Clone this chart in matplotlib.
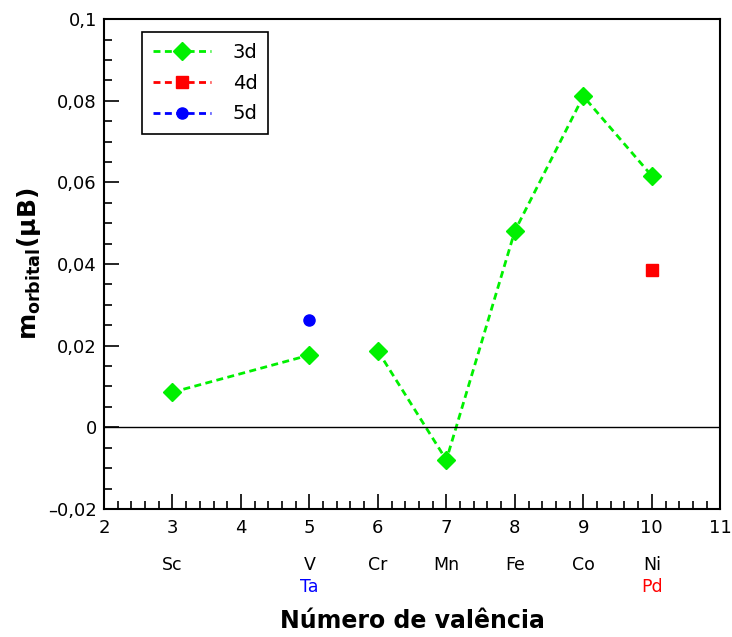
import numpy as np
import matplotlib.pyplot as plt
from matplotlib.ticker import MultipleLocator, FuncFormatter
import matplotlib.transforms as mtransforms

# dados
val_3d = [3, 5, 6, 7, 8, 9, 10]
m_3d = [0.0086, 0.0177, 0.0187, -0.0080, 0.0481, 0.0811, 0.0616]
val_4d = [10]
m_4d = [0.0385]
val_5d = [5]
m_5d = [0.0263]

# elementos sob o eixo x
elem_pos = [3, 5, 6, 7, 8, 9, 10]
elem_3d = ['Sc', 'V', 'Cr', 'Mn', 'Fe', 'Co', 'Ni']
elem_extra_pos = [5, 10]
elem_extra = ['Ta', 'Pd']
elem_extra_cor = ['blue', 'red']

fig = plt.figure(figsize=(7.32, 6.37), dpi=100)
ax = fig.add_axes([0.142, 0.201, 0.842, 0.769])

# linha 3d com quebra entre V e Cr
x3 = np.insert(np.array(val_3d, dtype=float), 2, np.nan)
y3 = np.insert(np.array(m_3d, dtype=float), 2, np.nan)
ax.plot(x3, y3, '--', color='#00F000', lw=2, dashes=(2.5, 1.6), marker='D', ms=9, label='3d')
ax.plot(val_4d, m_4d, '--', color='red', lw=2, dashes=(2.5, 1.6), marker='s', ms=8, label='4d')
ax.plot(val_5d, m_5d, '--', color='blue', lw=2, dashes=(2.5, 1.6), marker='o', ms=8, label='5d')

ax.axhline(0, color='black', lw=1)

ax.set_xlim(2, 11)
ax.set_ylim(-0.02, 0.1)
ax.xaxis.set_major_locator(MultipleLocator(1))
ax.xaxis.set_minor_locator(MultipleLocator(0.2))
ax.yaxis.set_major_locator(MultipleLocator(0.02))
ax.yaxis.set_minor_locator(MultipleLocator(0.005))


def virgula(v, pos):
    if abs(v) < 1e-9:
        return '0'
    return f'{v:g}'.replace('.', ',').replace('-', '\u2013')


ax.yaxis.set_major_formatter(FuncFormatter(virgula))
ax.tick_params(which='both', direction='in', top=False, right=False, labelsize=13, width=1.2)
ax.tick_params(which='major', length=11)
ax.tick_params(axis='y', which='major', pad=5)
ax.tick_params(axis='x', which='major', pad=7)
ax.tick_params(which='minor', length=6)
for s in ax.spines.values():
    s.set_linewidth(1.5)

trans = mtransforms.blended_transform_factory(ax.transData, ax.transAxes)
for p, e in zip(elem_pos, elem_3d):
    ax.text(p, -0.115, e, transform=trans, ha='center', va='center', fontsize=12.5)
for p, e, c in zip(elem_extra_pos, elem_extra, elem_extra_cor):
    ax.text(p, -0.16, e, transform=trans, ha='center', va='center', fontsize=12.5, color=c)

ax.set_xlabel('Número de valência', fontsize=17, fontweight='bold', labelpad=52)
ax.set_ylabel(r'$\mathbf{m_{orbital}(\mu B)}$', fontsize=18, labelpad=4)

leg = ax.legend(loc='upper left', bbox_to_anchor=(0.062, 0.973), borderaxespad=0, fontsize=14,
                fancybox=False, edgecolor='black', framealpha=1, handlelength=3.0,
                handletextpad=1.1, borderpad=0.55, labelspacing=0.6)
leg.get_frame().set_linewidth(1.2)

fig.savefig('out.png', dpi=100)
